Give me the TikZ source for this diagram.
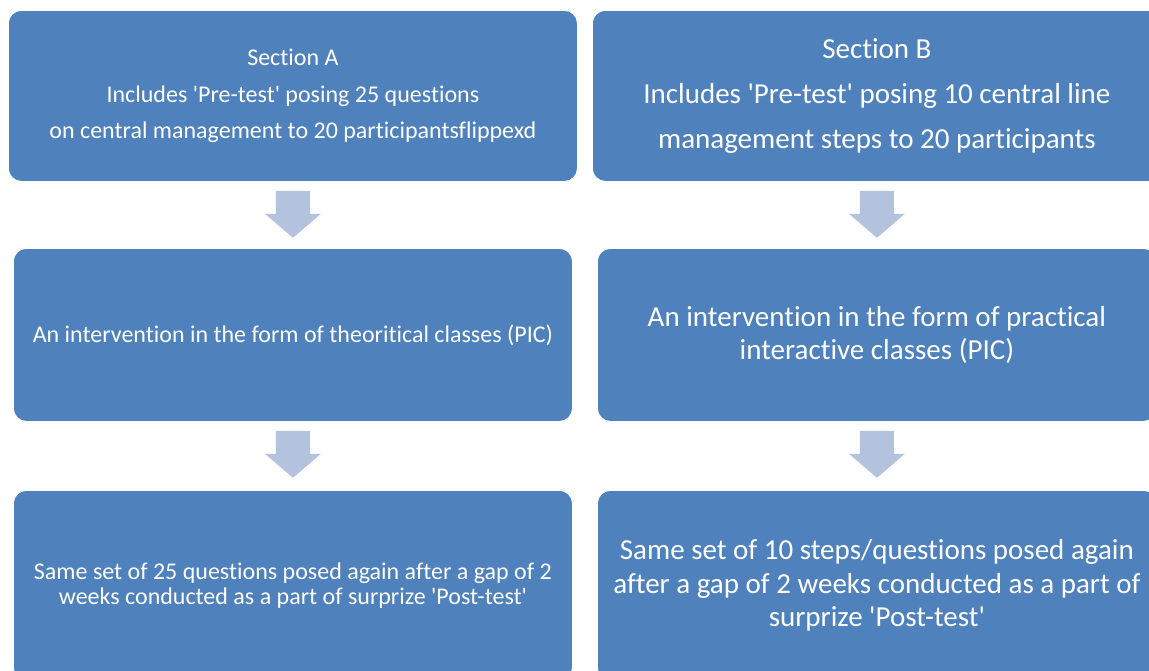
\documentclass[tikz,border=0pt]{standalone}
\usepackage{fontspec}
\setmainfont{Carlito}[Ligatures={TeXOff,NoCommon}]
\usetikzlibrary{calc}
\definecolor{boxblue}{HTML}{4F81BD}
\definecolor{arrowblue}{HTML}{B3C2DD}
\tikzset{
  flowbox/.style={rectangle, rounded corners=13pt, fill=boxblue, draw=white, line width=0.8pt,
    text=white, align=center, anchor=north west, inner sep=0pt},
  smalltext/.style={font=\fontsize{24}{24.5}\selectfont},
  bigtext/.style={font=\fontsize{29}{33.5}\selectfont},
  blockarrow/.style={fill=arrowblue, draw=none}
}
\newcommand{\downarrowshape}[1]{%
  \fill[blockarrow] ($(#1)+(-17,9)$) -- ++(34,0) -- ++(0,23) -- ++(11,0) -- ++(-28,24) -- ++(-28,-24) -- ++(11,0) -- cycle;}
\begin{document}
\begin{tikzpicture}[x=1pt,y=-1pt]
\useasboundingbox (0,0) rectangle (1149,670);
% Section A column
\node[flowbox, smalltext, minimum width=569pt, minimum height=171pt] (a1) at (8,10)
  {Section A\\[12pt]Includes 'Pre-test' posing 25 questions\\[12pt]on central management to 20 participantsflippexd};
\node[flowbox, smalltext, minimum width=559pt, minimum height=173pt] (a2) at (13,248)
  {An intervention in the form of theoritical classes (PIC)};
\node[flowbox, smalltext, minimum width=559pt, minimum height=190pt] (a3) at (13,490)
  {Same set of 25 questions posed again after a gap of 2\\weeks conducted as a part of surprize 'Post-test'};
% Section B column
\node[flowbox, bigtext, minimum width=569pt, minimum height=171pt] (b1) at (592,10)
  {Section B\\[11.5pt]Includes 'Pre-test' posing 10 central line\\[11.5pt]management steps to 20 participants};
\node[flowbox, bigtext, minimum width=559pt, minimum height=173pt] (b2) at (597,248)
  {An intervention in the form of practical\\interactive classes (PIC)};
\node[flowbox, bigtext, minimum width=559pt, minimum height=190pt] (b3) at (597,490)
  {Same set of 10 steps/questions posed again\\after a gap of 2 weeks conducted as a part of\\surprize 'Post-test'};
% block arrows between boxes
\downarrowshape{a1.south}
\downarrowshape{a2.south}
\downarrowshape{b1.south}
\downarrowshape{b2.south}
\end{tikzpicture}
\end{document}
